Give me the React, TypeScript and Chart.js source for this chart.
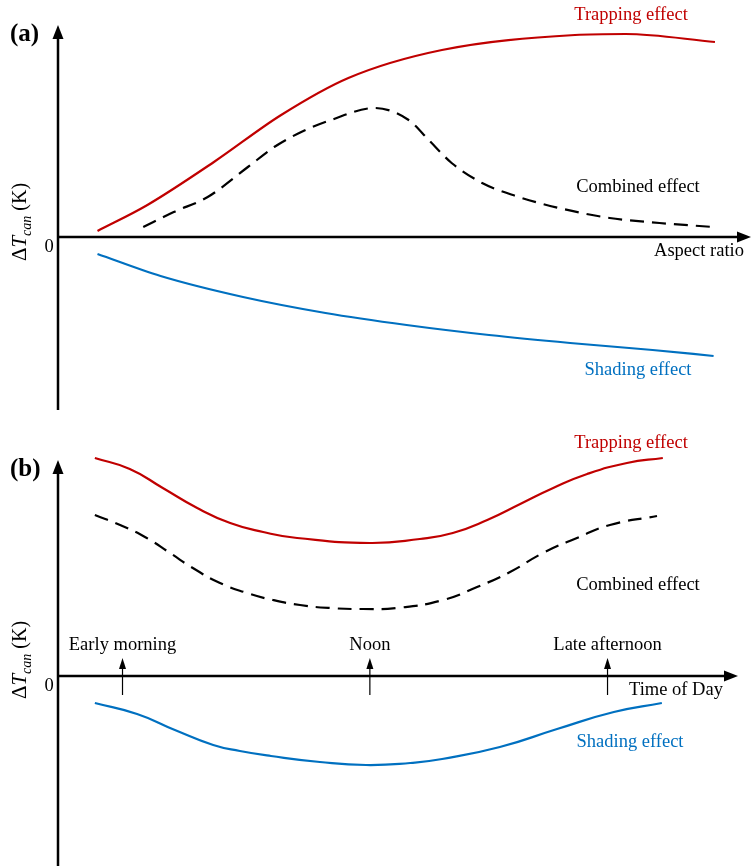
import React, { useEffect, useRef } from 'react';
import { Chart, registerables } from 'chart.js';

Chart.register(...registerables);

// ---------- Panel (a): ΔT_can vs aspect ratio (schematic, arbitrary units) ----------
const aTrapX = [0.57, 1.29, 2.25, 3.22, 4.19, 5.54, 7.46, 8.19, 9.48];
const aTrapY = [0.30, 1.60, 3.75, 6.10, 7.95, 9.35, 10.10, 10.15, 9.75];

const aCombX = [1.23, 1.67, 2.16, 2.74, 3.12, 3.51, 3.94, 4.57, 5.06, 5.35, 5.68, 6.12, 6.65, 7.23, 7.96, 8.68, 9.45];
const aCombY = [0.50, 1.25, 2.00, 3.50, 4.50, 5.25, 5.85, 6.45, 5.85, 4.85, 3.70, 2.70, 2.00, 1.45, 0.95, 0.70, 0.50];

const aShadX = [0.57, 1.48, 2.67, 3.86, 5.03, 6.22, 7.39, 8.58, 9.46];
const aShadY = [-0.85, -1.95, -3.00, -3.80, -4.40, -4.90, -5.30, -5.65, -5.95];

// ---------- Panel (b): ΔT_can vs time of day (hours, schematic) ----------
const bTrapX = [6.33, 7.05, 7.73, 8.44, 9.12, 9.80, 10.50, 12.00, 13.03, 13.71, 14.42, 15.10, 15.78, 16.48, 17.30, 18.04];
const bTrapY = [10.90, 10.35, 9.40, 8.40, 7.65, 7.20, 6.90, 6.65, 6.85, 7.15, 7.80, 8.60, 9.40, 10.10, 10.65, 10.90];

const bCombX = [6.33, 6.85, 7.40, 7.88, 8.35, 8.91, 9.47, 10.00, 10.56, 11.18, 11.86, 12.56, 13.51, 14.21, 14.89, 15.57, 16.27, 16.95, 17.92];
const bCombY = [8.05, 7.55, 6.90, 6.15, 5.40, 4.65, 4.15, 3.80, 3.55, 3.40, 3.35, 3.40, 3.80, 4.45, 5.20, 6.15, 6.90, 7.55, 8.00];

const bShadX = [6.33, 7.20, 7.98, 8.77, 9.32, 9.96, 10.97, 11.92, 12.83, 13.49, 14.68, 15.86, 17.03, 18.02];
const bShadY = [-1.35, -1.90, -2.70, -3.45, -3.75, -4.00, -4.30, -4.45, -4.35, -4.15, -3.55, -2.65, -1.80, -1.35];

const bMarkerHours = [6.9, 12, 16.9];
const bMarkerLabels = ['Early morning', 'Noon', 'Late afternoon'];

const RED = '#c00000';
const BLUE = '#0070c0';
const SERIF = '"Liberation Serif", "Times New Roman", Times, serif';
const FS = 18.5;

type Pt = { x: number; y: number };
const pts = (xs: number[], ys: number[]): Pt[] => xs.map((x, i) => ({ x, y: ys[i] }));

function arrowHead(ctx: CanvasRenderingContext2D, tx: number, ty: number, dir: 'up' | 'right', len: number, half: number) {
  ctx.beginPath();
  if (dir === 'up') {
    ctx.moveTo(tx, ty);
    ctx.lineTo(tx - half, ty + len);
    ctx.lineTo(tx + half, ty + len);
  } else {
    ctx.moveTo(tx, ty);
    ctx.lineTo(tx - len, ty - half);
    ctx.lineTo(tx - len, ty + half);
  }
  ctx.closePath();
  ctx.fill();
}

type Label = { text: string; x: number; y: number; color: string };

function makeDecor(opts: {
  letter: string;
  letterY: number;
  titleCY: number;
  xLabel: Label;
  labels: Label[];
  markers?: { hours: number[]; labels: string[] };
}) {
  return {
    id: 'decor',
    afterDatasetsDraw(chart: any) {
      const { ctx, chartArea } = chart;
      const xs = chart.scales.x;
      const ys = chart.scales.y;
      const y0 = ys.getPixelForValue(0);
      const left = chartArea.left;
      ctx.save();
      ctx.fillStyle = '#000';
      ctx.strokeStyle = '#000';
      ctx.lineWidth = 2.5;
      // y axis
      ctx.beginPath();
      ctx.moveTo(left, chartArea.bottom);
      ctx.lineTo(left, chartArea.top + 10);
      ctx.stroke();
      arrowHead(ctx, left, chartArea.top, 'up', 14, 5.5);
      // x axis
      ctx.beginPath();
      ctx.moveTo(left, y0);
      ctx.lineTo(chartArea.right - 10, y0);
      ctx.stroke();
      arrowHead(ctx, chartArea.right, y0, 'right', 14, 5.5);

      // markers (time of day)
      if (opts.markers) {
        ctx.lineWidth = 1.2;
        opts.markers.hours.forEach((h, i) => {
          const px = xs.getPixelForValue(h);
          ctx.beginPath();
          ctx.moveTo(px, y0 + 19);
          ctx.lineTo(px, y0 - 8);
          ctx.stroke();
          arrowHead(ctx, px, y0 - 18, 'up', 11, 3.5);
          ctx.font = `${FS}px ${SERIF}`;
          ctx.textAlign = 'center';
          ctx.textBaseline = 'middle';
          ctx.fillText(opts.markers!.labels[i], px, y0 - 31);
        });
      }

      // text labels
      ctx.textAlign = 'center';
      ctx.textBaseline = 'middle';
      ctx.font = `${FS}px ${SERIF}`;
      [opts.xLabel, ...opts.labels].forEach((l) => {
        ctx.fillStyle = l.color;
        ctx.fillText(l.text, l.x, l.y);
      });

      // zero label
      ctx.fillStyle = '#000';
      ctx.font = `${FS}px ${SERIF}`;
      ctx.fillText('0', left - 9, y0 + 10);

      // panel letter
      ctx.font = `bold 25px ${SERIF}`;
      ctx.textAlign = 'left';
      ctx.fillText(opts.letter, 10, opts.letterY);

      // y title: ΔT_can (K), rotated
      ctx.translate(19, opts.titleCY);
      ctx.rotate(-Math.PI / 2);
      const parts = [
        { t: 'Δ', f: `21px ${SERIF}`, dy: 0 },
        { t: 'T', f: `italic 21px ${SERIF}`, dy: 0 },
        { t: 'can', f: `italic 14px ${SERIF}`, dy: 5 },
        { t: ' (K)', f: `20px ${SERIF}`, dy: 0 },
      ];
      let total = 0;
      parts.forEach((p) => {
        ctx.font = p.f;
        total += ctx.measureText(p.t).width;
      });
      let cx = -total / 2;
      ctx.textAlign = 'left';
      ctx.textBaseline = 'alphabetic';
      parts.forEach((p) => {
        ctx.font = p.f;
        ctx.fillText(p.t, cx, 7 + p.dy);
        cx += ctx.measureText(p.t).width;
      });
      ctx.restore();
    },
  };
}

function lineDS(data: Pt[], color: string, dashed = false, smooth: 'monotone' | 'tension' = 'monotone') {
  return {
    data,
    borderColor: color,
    borderWidth: 2.2,
    borderDash: dashed ? [14, 8] : [],
    pointRadius: 0,
    cubicInterpolationMode: smooth === 'monotone' ? ('monotone' as const) : ('default' as const),
    tension: 0.5,
    fill: false,
    clip: false as any,
  };
}

function baseOptions(padding: any, xmin: number, xmax: number, ymin: number, ymax: number) {
  return {
    responsive: false,
    animation: false as const,
    layout: { padding },
    events: [] as any[],
    scales: {
      x: { type: 'linear' as const, display: false, min: xmin, max: xmax },
      y: { type: 'linear' as const, display: false, min: ymin, max: ymax },
    },
    plugins: { legend: { display: false }, tooltip: { enabled: false } },
  };
}

export default function App() {
  const refA = useRef<HTMLCanvasElement>(null);
  const refB = useRef<HTMLCanvasElement>(null);

  useEffect(() => {
    const chartA = new Chart(refA.current!, {
      type: 'line',
      data: {
        datasets: [
          lineDS(pts(aTrapX, aTrapY), RED),
          lineDS(pts(aCombX, aCombY), '#000', true),
          lineDS(pts(aShadX, aShadY), BLUE),
        ] as any,
      },
      options: baseOptions({ left: 58, right: 4, top: 25, bottom: 20 }, 0, 10, -8.65, 10.6) as any,
      plugins: [
        makeDecor({
          letter: '(a)',
          letterY: 35,
          titleCY: 222,
          xLabel: { text: 'Aspect ratio', x: 699, y: 251, color: '#000' },
          labels: [
            { text: 'Trapping effect', x: 631, y: 15, color: RED },
            { text: 'Combined effect', x: 638, y: 187, color: '#000' },
            { text: 'Shading effect', x: 638, y: 370, color: BLUE },
          ],
        }),
      ],
    });

    const chartB = new Chart(refB.current!, {
      type: 'line',
      data: {
        datasets: [
          lineDS(pts(bTrapX, bTrapY), RED, false, 'tension'),
          lineDS(pts(bCombX, bCombY), '#000', true, 'tension'),
          lineDS(pts(bShadX, bShadY), BLUE, false, 'tension'),
        ] as any,
      },
      options: baseOptions({ left: 58, right: 17, top: 30, bottom: 0 }, 5.57, 19.59, -9.5, 10.8) as any,
      plugins: [
        makeDecor({
          letter: '(b)',
          letterY: 40,
          titleCY: 230,
          xLabel: { text: 'Time of Day', x: 676, y: 260, color: '#000' },
          labels: [
            { text: 'Trapping effect', x: 631, y: 13, color: RED },
            { text: 'Combined effect', x: 638, y: 155, color: '#000' },
            { text: 'Shading effect', x: 630, y: 312, color: BLUE },
          ],
          markers: { hours: bMarkerHours, labels: bMarkerLabels },
        }),
      ],
    });

    return () => {
      chartA.destroy();
      chartB.destroy();
    };
  }, []);

  return (
    <div style={{ position: 'absolute', left: 0, top: 0, width: 755, height: 866, background: '#fff' }}>
      <canvas ref={refA} width={755} height={430} style={{ position: 'absolute', left: 0, top: 0, display: 'block' }} />
      <canvas ref={refB} width={755} height={436} style={{ position: 'absolute', left: 0, top: 430, display: 'block' }} />
    </div>
  );
}
